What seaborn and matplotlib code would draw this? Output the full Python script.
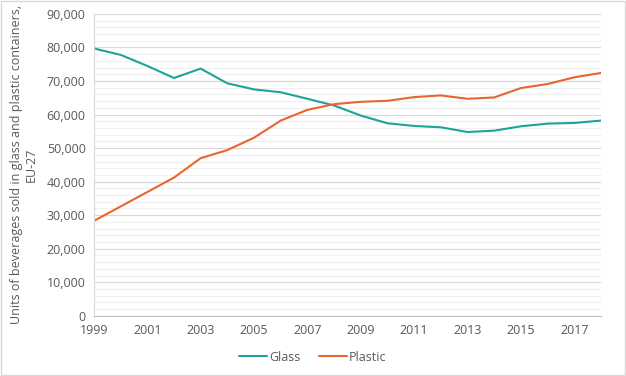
import matplotlib.pyplot as plt
import seaborn as sns
import pandas as pd
import numpy as np
from matplotlib.ticker import FuncFormatter, MultipleLocator
from matplotlib.patches import Rectangle

years = list(range(1999, 2019))
glass = [79700, 77800, 74500, 70900, 73700, 69300, 67500, 66650, 64700, 62700,
         59700, 57400, 56600, 56200, 54800, 55200, 56500, 57300, 57500, 58200]
plastic = [28300, 32600, 36900, 41200, 47000, 49400, 53100, 58200, 61400, 63100,
           63800, 64100, 65200, 65700, 64700, 65100, 67900, 69100, 71100, 72400]

df = pd.DataFrame({
    "Year": years * 2,
    "Units": glass + plastic,
    "Type": ["Glass"] * len(years) + ["Plastic"] * len(years),
})

palette = {"Glass": "#1ea39a", "Plastic": "#e8652e"}
grey = "#595959"

sns.set_style("white")
plt.rcParams["font.family"] = ["Open Sans", "DejaVu Sans"]

fig = plt.figure(figsize=(6.26, 3.76), dpi=100)
ax = fig.add_axes([0.150, 0.160, 0.810, 0.803])

sns.lineplot(data=df, x="Year", y="Units", hue="Type", palette=palette,
             linewidth=1.5, ax=ax, legend=False)

ax.set_xlim(1999, 2018)
ax.set_ylim(0, 90000)
ax.set_xticks(range(1999, 2019, 2))
ax.yaxis.set_major_locator(MultipleLocator(10000))
ax.yaxis.set_minor_locator(MultipleLocator(2000))
ax.yaxis.set_major_formatter(FuncFormatter(lambda v, p: f"{int(v):,}"))
ax.grid(True, which="major", axis="y", color="#d9d9d9", linewidth=0.9)
ax.grid(True, which="minor", axis="y", color="#f0f0f0", linewidth=0.8)
ax.set_axisbelow(True)
ax.tick_params(axis="both", length=0, labelsize=9, colors=grey, pad=6)

for s in ["top", "right"]:
    ax.spines[s].set_visible(False)
ax.spines["left"].set_color("#d9d9d9")
ax.spines["bottom"].set_color("#bfbfbf")

ax.set_xlabel("")
ax.set_ylabel("Units of beverages sold in glass and plastic containers,\nEU-27",
              fontsize=9, color=grey, labelpad=6, linespacing=1.2)

handles = [plt.Line2D([], [], color=palette[k], linewidth=1.5) for k in palette]
fig.legend(handles, list(palette.keys()), loc="center", bbox_to_anchor=(0.5, 0.05),
           ncol=2, frameon=False, fontsize=9, handlelength=2.2, handletextpad=0.2,
           columnspacing=1.5, labelcolor=grey)

fig.patches.append(Rectangle((0.002, 0.003), 0.996, 0.994, transform=fig.transFigure,
                             fill=False, edgecolor="#d9d9d9", linewidth=1))

fig.savefig("out.png", dpi=100)
